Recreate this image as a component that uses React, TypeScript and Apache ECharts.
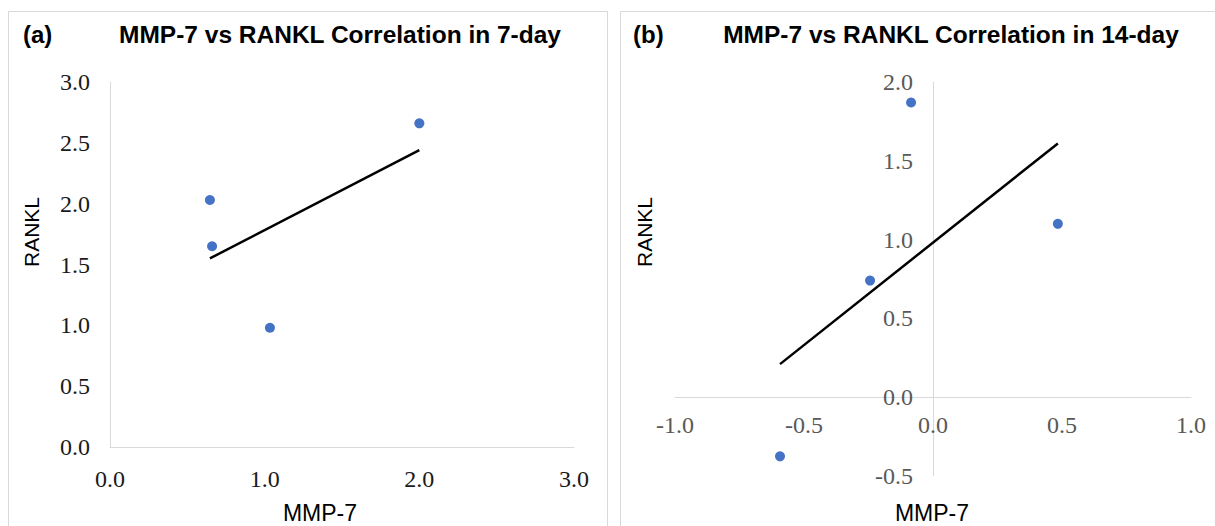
import React, { useEffect, useRef } from "react";
import * as echarts from "echarts";

// Panel (a): 7-day
const day7Mmp7 = [0.646, 0.66, 1.034, 2.0];
const day7Rankl = [2.03, 1.65, 0.98, 2.66];
const day7TrendMmp7 = [0.646, 2.0];
const day7TrendRankl = [1.55, 2.44];

// Panel (b): 14-day
const day14Mmp7 = [-0.085, 0.484, -0.244, -0.593];
const day14Rankl = [1.87, 1.1, 0.74, -0.375];
const day14TrendMmp7 = [-0.593, 0.484];
const day14TrendRankl = [0.21, 1.61];

const titles = ["MMP-7 vs RANKL Correlation in 7-day", "MMP-7 vs RANKL Correlation in 14-day"];
const panelTags = ["(a)", "(b)"];
const xName = "MMP-7";
const yName = "RANKL";

const pair = (xs: number[], ys: number[]) => xs.map((x, i) => [x, ys[i]]);

const serif = '"Liberation Serif", "Times New Roman", serif';
const sans = '"Liberation Sans", Arial, sans-serif';

export default function App() {
  const ref = useRef<HTMLDivElement>(null);
  useEffect(() => {
    if (!ref.current) return;
    const chart = echarts.init(ref.current, undefined, { renderer: "svg" });
    const fmt = (v: number) => v.toFixed(1);
    const axisCommon = (color: string) => ({
      type: "value" as const,
      axisLine: { show: true, onZero: false, lineStyle: { color: "#d9d9d9", width: 1 } },
      axisTick: { show: false },
      splitLine: { show: false },
      axisLabel: { formatter: fmt, fontFamily: serif, fontSize: 24, color, margin: 20 },
    });
    // panel (b) grid geometry: axes cross at zero
    const bLeft = 675, bTop = 82, bWidth = 516, bHeight = 394;
    const bXMin = -1, bXMax = 1, bYMin = -0.5, bYMax = 2;
    const xAxisOffset = -(bHeight * (0 - bYMin)) / (bYMax - bYMin);
    const yAxisOffset = -(bWidth * (0 - bXMin)) / (bXMax - bXMin);
    chart.setOption({
      animation: false,
      backgroundColor: "#ffffff",
      grid: [
        { left: 110, top: 82, width: 464, height: 365 },
        { left: bLeft, top: bTop, width: bWidth, height: bHeight },
      ],
      xAxis: [
        { ...axisCommon("#1a1a1a"), gridIndex: 0, min: 0, max: 3, interval: 1 },
        { ...axisCommon("#595959"), gridIndex: 1, min: bXMin, max: bXMax, interval: 0.5, offset: xAxisOffset, axisLabel: { formatter: fmt, fontFamily: serif, fontSize: 24, color: "#595959", margin: 16 } },
      ],
      yAxis: [
        { ...axisCommon("#1a1a1a"), gridIndex: 0, min: 0, max: 3, interval: 0.5 },
        { ...axisCommon("#595959"), gridIndex: 1, min: bYMin, max: bYMax, interval: 0.5, offset: yAxisOffset },
      ],
      series: [
        {
          type: "scatter", xAxisIndex: 0, yAxisIndex: 0,
          data: pair(day7Mmp7, day7Rankl), symbolSize: 10,
          itemStyle: { color: "#4472C4", opacity: 1 },
        },
        {
          type: "line", xAxisIndex: 0, yAxisIndex: 0,
          data: pair(day7TrendMmp7, day7TrendRankl), showSymbol: false, symbol: "none",
          lineStyle: { color: "#000000", width: 2.5 },
        },
        {
          type: "scatter", xAxisIndex: 1, yAxisIndex: 1,
          data: pair(day14Mmp7, day14Rankl), symbolSize: 10,
          itemStyle: { color: "#4472C4", opacity: 1 },
        },
        {
          type: "line", xAxisIndex: 1, yAxisIndex: 1,
          data: pair(day14TrendMmp7, day14TrendRankl), showSymbol: false, symbol: "none",
          lineStyle: { color: "#000000", width: 2.5 },
        },
      ],
      graphic: [
        { type: "rect", z: -10, shape: { x: 8.5, y: 11.5, width: 599, height: 530 }, style: { fill: "none", stroke: "#d9d9d9", lineWidth: 1 } },
        { type: "rect", z: -10, shape: { x: 620.5, y: 11.5, width: 610, height: 530 }, style: { fill: "none", stroke: "#d9d9d9", lineWidth: 1 } },
        { type: "text", x: 23, y: 34, style: { text: panelTags[0], font: `bold 24px ${sans}`, fill: "#000", align: "left", verticalAlign: "middle", textAlign: "left", textVerticalAlign: "middle" } },
        { type: "text", x: 633, y: 34, style: { text: panelTags[1], font: `bold 24px ${sans}`, fill: "#000", align: "left", verticalAlign: "middle", textAlign: "left", textVerticalAlign: "middle" } },
        { type: "text", x: 340, y: 34, style: { text: titles[0], font: `bold 24.5px ${sans}`, fill: "#000", align: "center", verticalAlign: "middle", textAlign: "center", textVerticalAlign: "middle" } },
        { type: "text", x: 951, y: 34, style: { text: titles[1], font: `bold 24.5px ${sans}`, fill: "#000", align: "center", verticalAlign: "middle", textAlign: "center", textVerticalAlign: "middle" } },
        { type: "text", x: 320, y: 513, style: { text: xName, font: `23px ${sans}`, fill: "#000", align: "center", verticalAlign: "middle", textAlign: "center", textVerticalAlign: "middle" } },
        { type: "text", x: 932, y: 513, style: { text: xName, font: `23px ${sans}`, fill: "#000", align: "center", verticalAlign: "middle", textAlign: "center", textVerticalAlign: "middle" } },
        { type: "text", x: 31, y: 232, rotation: Math.PI / 2, style: { text: yName, font: `21px ${sans}`, fill: "#000", align: "center", verticalAlign: "middle", textAlign: "center", textVerticalAlign: "middle" } },
        { type: "text", x: 644, y: 232, rotation: Math.PI / 2, style: { text: yName, font: `21px ${sans}`, fill: "#000", align: "center", verticalAlign: "middle", textAlign: "center", textVerticalAlign: "middle" } },
      ],
    });
    return () => chart.dispose();
  }, []);
  return (
    <div
      ref={ref}
      style={{ position: "absolute", left: 0, top: 0, width: 1215, height: 526 }}
    />
  );
}
